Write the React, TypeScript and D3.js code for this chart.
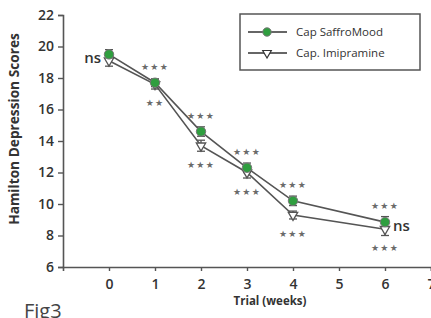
import React, { useEffect, useRef } from "react";
import * as d3 from "d3";

// weeks on trial
const weeks = [0, 1, 2, 3, 4, 6];
const saffroMood = [19.5, 17.7, 14.6, 12.3, 10.2, 8.85];
const saffroErr = [0.3, 0.25, 0.3, 0.3, 0.3, 0.35];
const imipramine = [19.1, 17.6, 13.7, 12.0, 9.3, 8.4];
const imipErr = [0.35, 0.3, 0.35, 0.35, 0.25, 0.4];
const starsAbove = ["", "***", "***", "***", "***", "***"];
const starsBelow = ["", "**", "***", "***", "***", "***"];
const xTicks = [0, 1, 2, 3, 4, 5, 6, 7];
const yTicks = [6, 8, 10, 12, 14, 16, 18, 20, 22];
const seriesNames = ["Cap SaffroMood", "Cap. Imipramine"];

const W = 431;
const H = 318;
const font = "'Open Sans', 'DejaVu Sans', sans-serif";
const lineColor = "#555";
const green = "#2f9e3f";

export default function App() {
  const ref = useRef<SVGSVGElement>(null);

  useEffect(() => {
    const svg = d3.select(ref.current);
    svg.selectAll("*").remove();

    const x = d3.scaleLinear().domain([-1, 7]).range([63, 431]);
    const y = d3.scaleLinear().domain([6, 22]).range([267, 15]);

    // axes
    const gy = svg
      .append("g")
      .attr("transform", `translate(${x(-1)},0)`)
      .call(d3.axisLeft(y).tickValues(yTicks).tickSize(5).tickPadding(4));
    const gx = svg
      .append("g")
      .attr("transform", `translate(0,${y(6)})`)
      .call(d3.axisBottom(x).tickValues(xTicks).tickSize(4).tickPadding(8));
    [gx, gy].forEach((g) => {
      g.select(".domain").attr("stroke", lineColor).attr("stroke-width", 1.6);
      g.selectAll("line").attr("stroke", lineColor).attr("stroke-width", 1.4);
      g.selectAll("text")
        .attr("font-family", font)
        .attr("font-weight", 600)
        .attr("font-size", 14)
        .attr("fill", "#333");
    });

    // axis titles
    svg
      .append("text")
      .attr("transform", `translate(19,129) rotate(-90)`)
      .attr("text-anchor", "middle")
      .attr("font-family", font)
      .attr("font-weight", 700)
      .attr("font-size", 13.7)
      .attr("fill", "#333")
      .text("Hamilton Depression Scores");
    svg
      .append("text")
      .attr("x", x(3.5))
      .attr("y", 305)
      .attr("text-anchor", "middle")
      .attr("font-family", font)
      .attr("font-weight", 700)
      .attr("font-size", 11.5)
      .attr("fill", "#333")
      .text("Trial (weeks)");
    svg
      .append("text")
      .attr("x", 24)
      .attr("y", 318)
      .attr("font-family", font)
      .attr("font-size", 20)
      .attr("fill", "#444")
      .text("Fig3");

    const line = d3
      .line<number>()
      .x((_, i) => x(weeks[i]))
      .y((d) => y(d));

    const series = [
      { vals: imipramine, err: imipErr },
      { vals: saffroMood, err: saffroErr },
    ];

    series.forEach((s) => {
      svg
        .append("path")
        .datum(s.vals)
        .attr("fill", "none")
        .attr("stroke", lineColor)
        .attr("stroke-width", 1.6)
        .attr("d", line);
    });

    // error bars
    series.forEach((s) => {
      const g = svg.append("g").attr("stroke", lineColor).attr("stroke-width", 1.3);
      s.vals.forEach((v, i) => {
        const cx = x(weeks[i]);
        g.append("line").attr("x1", cx).attr("x2", cx).attr("y1", y(v - s.err[i])).attr("y2", y(v + s.err[i]));
        [v - s.err[i], v + s.err[i]].forEach((e) =>
          g.append("line").attr("x1", cx - 4).attr("x2", cx + 4).attr("y1", y(e)).attr("y2", y(e))
        );
      });
    });

    const tri = d3.symbol().type(d3.symbolTriangle).size(38);
    svg
      .append("g")
      .selectAll("path")
      .data(imipramine)
      .join("path")
      .attr("d", tri)
      .attr("transform", (d, i) => `translate(${x(weeks[i])},${y(d)}) rotate(180)`)
      .attr("fill", "#fff")
      .attr("stroke", lineColor)
      .attr("stroke-width", 1.3);

    svg
      .append("g")
      .selectAll("circle")
      .data(saffroMood)
      .join("circle")
      .attr("cx", (d, i) => x(weeks[i]))
      .attr("cy", (d) => y(d))
      .attr("r", 4.7)
      .attr("fill", green)
      .attr("stroke", "#777")
      .attr("stroke-width", 1);

    // significance stars
    const starText = (s: string) => s.replace(/\*/g, "★");
    const starStyle = (sel: any) =>
      sel
        .attr("text-anchor", "middle")
        .attr("font-family", "'DejaVu Sans', sans-serif")
        .attr("font-size", 9)
        .attr("letter-spacing", 1.2)
        .attr("fill", "#6a6a6a")
        .text((d: string) => starText(d));
    svg
      .append("g")
      .selectAll("text")
      .data(starsAbove)
      .join("text")
      .attr("x", (d, i) => x(weeks[i]))
      .attr("y", (d, i) => y(saffroMood[i]) - 13)
      .call(starStyle);
    svg
      .append("g")
      .selectAll("text")
      .data(starsBelow)
      .join("text")
      .attr("x", (d, i) => x(weeks[i]))
      .attr("y", (d, i) => y(imipramine[i]) + 22)
      .call(starStyle);

    // ns labels
    svg
      .append("text")
      .attr("x", x(0) - 8)
      .attr("y", y(19.3) + 5)
      .attr("text-anchor", "end")
      .attr("font-family", font)
      .attr("font-weight", 600)
      .attr("font-size", 15)
      .attr("fill", "#333")
      .text("ns");
    svg
      .append("text")
      .attr("x", x(6) + 8)
      .attr("y", y(8.6) + 5)
      .attr("font-family", font)
      .attr("font-weight", 600)
      .attr("font-size", 15)
      .attr("fill", "#333")
      .text("ns");

    // legend
    const lg = svg.append("g");
    lg.append("rect")
      .attr("x", 240)
      .attr("y", 14)
      .attr("width", 180)
      .attr("height", 56)
      .attr("fill", "#fff")
      .attr("stroke", lineColor)
      .attr("stroke-width", 1.5);
    seriesNames.forEach((name, i) => {
      const ly = 32 + i * 21;
      lg.append("line")
        .attr("x1", 248)
        .attr("x2", 287)
        .attr("y1", ly)
        .attr("y2", ly)
        .attr("stroke", "#333")
        .attr("stroke-width", 1.6);
      if (i === 0) {
        lg.append("circle").attr("cx", 267).attr("cy", ly).attr("r", 4.2).attr("fill", green).attr("stroke", "#777");
      } else {
        lg.append("path")
          .attr("d", d3.symbol().type(d3.symbolTriangle).size(32)())
          .attr("transform", `translate(267,${ly}) rotate(180)`)
          .attr("fill", "#fff")
          .attr("stroke", "#333")
          .attr("stroke-width", 1.2);
      }
      lg.append("text")
        .attr("x", 296)
        .attr("y", ly + 4)
        .attr("font-family", font)
        .attr("font-size", 11.5)
        .attr("fill", "#333")
        .text(name);
    });
  }, []);

  return (
    <div style={{ position: "fixed", left: 0, top: 0 }}>
      <svg ref={ref} width={W} height={H} style={{ background: "#fff", display: "block" }} />
    </div>
  );
}
